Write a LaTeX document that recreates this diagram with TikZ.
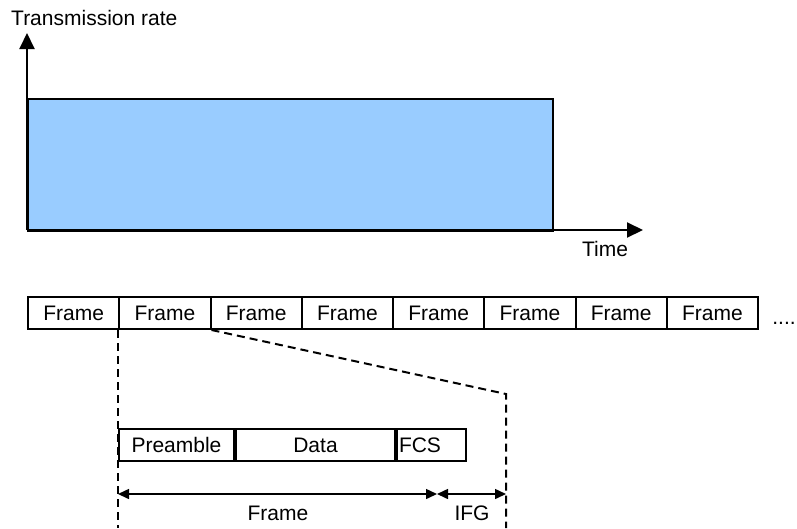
\documentclass[tikz,border=0pt]{standalone}
\usepackage{fontspec}
\setmainfont{Liberation Sans}
\usetikzlibrary{arrows.meta,positioning}
\definecolor{rateblue}{HTML}{99CCFF}

\begin{document}
\begin{tikzpicture}[x=1pt, y=-1pt,
  font=\fontsize{21}{25}\selectfont,
  frm/.style={draw, line width=2pt, minimum height=32pt, inner sep=0pt, anchor=north west},
  axis/.style={-{Triangle[length=16pt,width=15pt]}, line width=2pt},
  span/.style={{Triangle[length=11pt,width=10pt]}-{Triangle[length=11pt,width=10pt]}, line width=1.5pt},
  cut/.style={line width=2pt, dash pattern=on 8pt off 5pt}]
\useasboundingbox (0,0) rectangle (797,528);
% rate over time
\node[draw, fill=rateblue, line width=1.5pt, minimum width=525pt, minimum height=132pt,
  inner sep=0pt, anchor=north west] (burst) at (27,98) {};
\coordinate (origin) at (27,230);
\coordinate (ytip) at (27,33);
\coordinate (xtip) at (643,230);
\draw[axis] (origin) -- (ytip);
\draw[axis] (origin) -- (xtip);
\node[anchor=base west, inner sep=0pt] (ratelbl) at (11,25) {Transmission rate};
\node[anchor=base, inner sep=0pt] (timelbl) at (605,256) {Time};
% frame sequence
\foreach \i in {1,...,8}
  \node[frm, minimum width=91.25pt] (f\i) at ({27+91.25*(\i-1)},296) {Frame};
\node[anchor=base, inner sep=0pt] (more) at (784,324) {....};
% zoom into one frame
\node[frm, minimum width=115pt] (pre) at (118,428) {Preamble};
\node[frm, minimum width=159pt, right=0pt of pre.north east, anchor=north west] (data) {Data};
\node[frm, text width=65pt, inner xsep=2pt, align=left, right=0pt of data.north east, anchor=north west] (fcs) {FCS};
\coordinate (bend) at (506,394);
\coordinate (gap) at (437,494);
\draw[cut] (f2.south west) -- (f2.south west |- 0,528);
\draw[cut] (f2.south east) -- (bend) -- (bend |- 0,528);
\draw[span] (pre.west |- gap) -- (gap);
\draw[span] (gap) -- (bend |- gap);
\node (framelbl) at (278,513) {Frame};
\node (ifglbl) at (472,513) {IFG};
\end{tikzpicture}
\end{document}
